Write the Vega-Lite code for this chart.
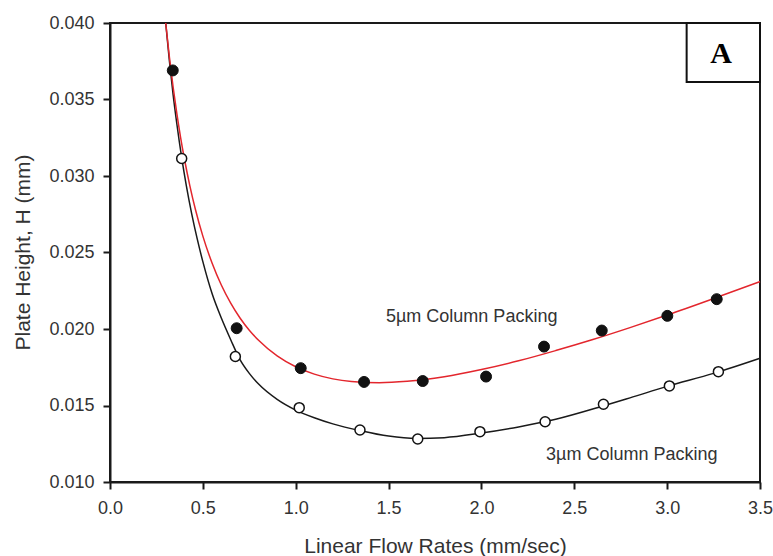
{
  "$schema": "https://vega.github.io/schema/vega-lite/v6.json",
  "width": 650,
  "height": 459,
  "autosize": {"type": "none"},
  "padding": {"left": 110, "top": 23, "right": 13, "bottom": 74},
  "background": "white",
  "config": {
    "view": {"stroke": "#1a1a1a", "strokeWidth": 2},
    "font": "Liberation Sans",
    "axis": {
      "grid": false,
      "labelFlush": false,
      "domainColor": "#1a1a1a",
      "domainWidth": 2,
      "tickColor": "#1a1a1a",
      "tickWidth": 2,
      "tickSize": 7,
      "labelFont": "Liberation Sans",
      "labelFontSize": 18,
      "labelColor": "#333333",
      "titleFont": "Liberation Sans",
      "titleFontSize": 21,
      "titleFontWeight": "normal",
      "titleColor": "#333333"
    }
  },
  "datasets": {
    "curve5": [
      {"u": 0.30, "H": 0.0400}, {"u": 0.32, "H": 0.03776}, {"u": 0.34, "H": 0.03580},
      {"u": 0.36, "H": 0.03407}, {"u": 0.38, "H": 0.03253}, {"u": 0.40, "H": 0.03116},
      {"u": 0.43, "H": 0.02936}, {"u": 0.46, "H": 0.02781}, {"u": 0.50, "H": 0.02607},
      {"u": 0.55, "H": 0.02430}, {"u": 0.60, "H": 0.02286}, {"u": 0.65, "H": 0.02169},
      {"u": 0.70, "H": 0.02072}, {"u": 0.75, "H": 0.01992}, {"u": 0.80, "H": 0.01926},
      {"u": 0.90, "H": 0.01824}, {"u": 1.00, "H": 0.01753}, {"u": 1.10, "H": 0.01705},
      {"u": 1.20, "H": 0.01674}, {"u": 1.30, "H": 0.01657}, {"u": 1.45, "H": 0.01649},
      {"u": 1.60, "H": 0.01658}, {"u": 1.80, "H": 0.01688}, {"u": 2.00, "H": 0.01735},
      {"u": 2.20, "H": 0.01792}, {"u": 2.40, "H": 0.01859}, {"u": 2.60, "H": 0.01931},
      {"u": 2.80, "H": 0.02009}, {"u": 3.00, "H": 0.02091}, {"u": 3.25, "H": 0.02199},
      {"u": 3.50, "H": 0.02310}
    ],
    "curve3": [
      {"u": 0.30, "H": 0.0400}, {"u": 0.32, "H": 0.0375}, {"u": 0.34, "H": 0.0353},
      {"u": 0.36, "H": 0.0334}, {"u": 0.386, "H": 0.0312}, {"u": 0.41, "H": 0.02944},
      {"u": 0.44, "H": 0.02753}, {"u": 0.47, "H": 0.02587}, {"u": 0.50, "H": 0.02440},
      {"u": 0.55, "H": 0.0223}, {"u": 0.60, "H": 0.0207}, {"u": 0.65, "H": 0.0193},
      {"u": 0.70, "H": 0.0180}, {"u": 0.75, "H": 0.0171}, {"u": 0.80, "H": 0.0164},
      {"u": 0.90, "H": 0.0154}, {"u": 1.00, "H": 0.0147}, {"u": 1.10, "H": 0.0142},
      {"u": 1.20, "H": 0.0138}, {"u": 1.35, "H": 0.01335}, {"u": 1.50, "H": 0.0130},
      {"u": 1.65, "H": 0.01285}, {"u": 1.80, "H": 0.0129}, {"u": 2.00, "H": 0.0132},
      {"u": 2.20, "H": 0.0136}, {"u": 2.40, "H": 0.0141}, {"u": 2.65, "H": 0.01495},
      {"u": 2.80, "H": 0.0155}, {"u": 3.00, "H": 0.01625}, {"u": 3.25, "H": 0.0171},
      {"u": 3.50, "H": 0.01809}
    ],
    "points5": [
      {"u": 0.338, "H": 0.0369}, {"u": 0.682, "H": 0.02005}, {"u": 1.027, "H": 0.01744},
      {"u": 1.368, "H": 0.01654}, {"u": 1.684, "H": 0.0166}, {"u": 2.025, "H": 0.01689},
      {"u": 2.337, "H": 0.01885}, {"u": 2.648, "H": 0.0199}, {"u": 3.001, "H": 0.02086},
      {"u": 3.267, "H": 0.02195}
    ],
    "points3": [
      {"u": 0.386, "H": 0.03114}, {"u": 0.675, "H": 0.0182}, {"u": 1.019, "H": 0.01486},
      {"u": 1.346, "H": 0.0134}, {"u": 1.657, "H": 0.01281}, {"u": 1.992, "H": 0.01329},
      {"u": 2.343, "H": 0.01394}, {"u": 2.657, "H": 0.01508}, {"u": 3.012, "H": 0.01628},
      {"u": 3.276, "H": 0.01721}
    ],
    "labels": [
      {"label": "5µm Column Packing", "u": 1.486, "H": 0.02081},
      {"label": "3µm Column Packing", "u": 2.348, "H": 0.01177}
    ],
    "box": [{"u": 3.105, "u2": 3.5, "H": 0.03614, "H2": 0.040}],
    "panel": [{"label": "A", "u": 3.29, "H": 0.03795}]
  },
  "layer": [
    {
      "data": {"name": "curve3"},
      "mark": {"type": "line", "color": "#1a1a1a", "strokeWidth": 1.5, "interpolate": "monotone"},
      "encoding": {
        "x": {"field": "u", "type": "quantitative",
              "scale": {"domain": [0, 3.5], "nice": false, "zero": false},
              "axis": {"title": "Linear Flow Rates (mm/sec)", "values": [0, 0.5, 1, 1.5, 2, 2.5, 3, 3.5], "format": ".1f", "labelPadding": 10, "titleY": 64, "titleBaseline": "middle"}},
        "y": {"field": "H", "type": "quantitative",
              "scale": {"domain": [0.010, 0.040], "nice": false, "zero": false},
              "axis": {"title": "Plate Height, H (mm)", "values": [0.010, 0.015, 0.020, 0.025, 0.030, 0.035, 0.040], "format": ".3f", "labelPadding": 9, "titleX": -87, "titleY": 229, "titleBaseline": "middle"}}
      }
    },
    {
      "data": {"name": "curve5"},
      "mark": {"type": "line", "color": "#e3262d", "strokeWidth": 1.5, "interpolate": "monotone"},
      "encoding": {
        "x": {"field": "u", "type": "quantitative", "scale": {"domain": [0, 3.5], "nice": false, "zero": false}},
        "y": {"field": "H", "type": "quantitative", "scale": {"domain": [0.010, 0.040], "nice": false, "zero": false}}
      }
    },
    {
      "data": {"name": "box"},
      "mark": {"type": "rect", "fill": "white", "stroke": "#111111", "strokeWidth": 2},
      "encoding": {
        "x": {"field": "u", "type": "quantitative", "scale": {"domain": [0, 3.5], "nice": false, "zero": false}},
        "x2": {"field": "u2"},
        "y": {"field": "H", "type": "quantitative", "scale": {"domain": [0.010, 0.040], "nice": false, "zero": false}},
        "y2": {"field": "H2"}
      }
    },
    {
      "data": {"name": "points5"},
      "mark": {"type": "point", "shape": "circle", "filled": true, "fill": "#111111", "stroke": "#111111", "strokeWidth": 1, "size": 120, "opacity": 1},
      "encoding": {
        "x": {"field": "u", "type": "quantitative", "scale": {"domain": [0, 3.5], "nice": false, "zero": false}},
        "y": {"field": "H", "type": "quantitative", "scale": {"domain": [0.010, 0.040], "nice": false, "zero": false}}
      }
    },
    {
      "data": {"name": "points3"},
      "mark": {"type": "point", "shape": "circle", "filled": true, "fill": "white", "stroke": "#111111", "strokeWidth": 1.5, "size": 100, "opacity": 1},
      "encoding": {
        "x": {"field": "u", "type": "quantitative", "scale": {"domain": [0, 3.5], "nice": false, "zero": false}},
        "y": {"field": "H", "type": "quantitative", "scale": {"domain": [0.010, 0.040], "nice": false, "zero": false}}
      }
    },
    {
      "data": {"name": "labels"},
      "mark": {"type": "text", "align": "left", "baseline": "middle", "fontSize": 18, "font": "Liberation Sans", "color": "#333333"},
      "encoding": {
        "x": {"field": "u", "type": "quantitative", "scale": {"domain": [0, 3.5], "nice": false, "zero": false}},
        "y": {"field": "H", "type": "quantitative", "scale": {"domain": [0.010, 0.040], "nice": false, "zero": false}},
        "text": {"field": "label"}
      }
    },
    {
      "data": {"name": "panel"},
      "mark": {"type": "text", "align": "center", "baseline": "middle", "fontSize": 30, "font": "Liberation Serif", "fontWeight": "bold", "color": "#000000"},
      "encoding": {
        "x": {"field": "u", "type": "quantitative", "scale": {"domain": [0, 3.5], "nice": false, "zero": false}},
        "y": {"field": "H", "type": "quantitative", "scale": {"domain": [0.010, 0.040], "nice": false, "zero": false}},
        "text": {"field": "label"}
      }
    }
  ]
}
